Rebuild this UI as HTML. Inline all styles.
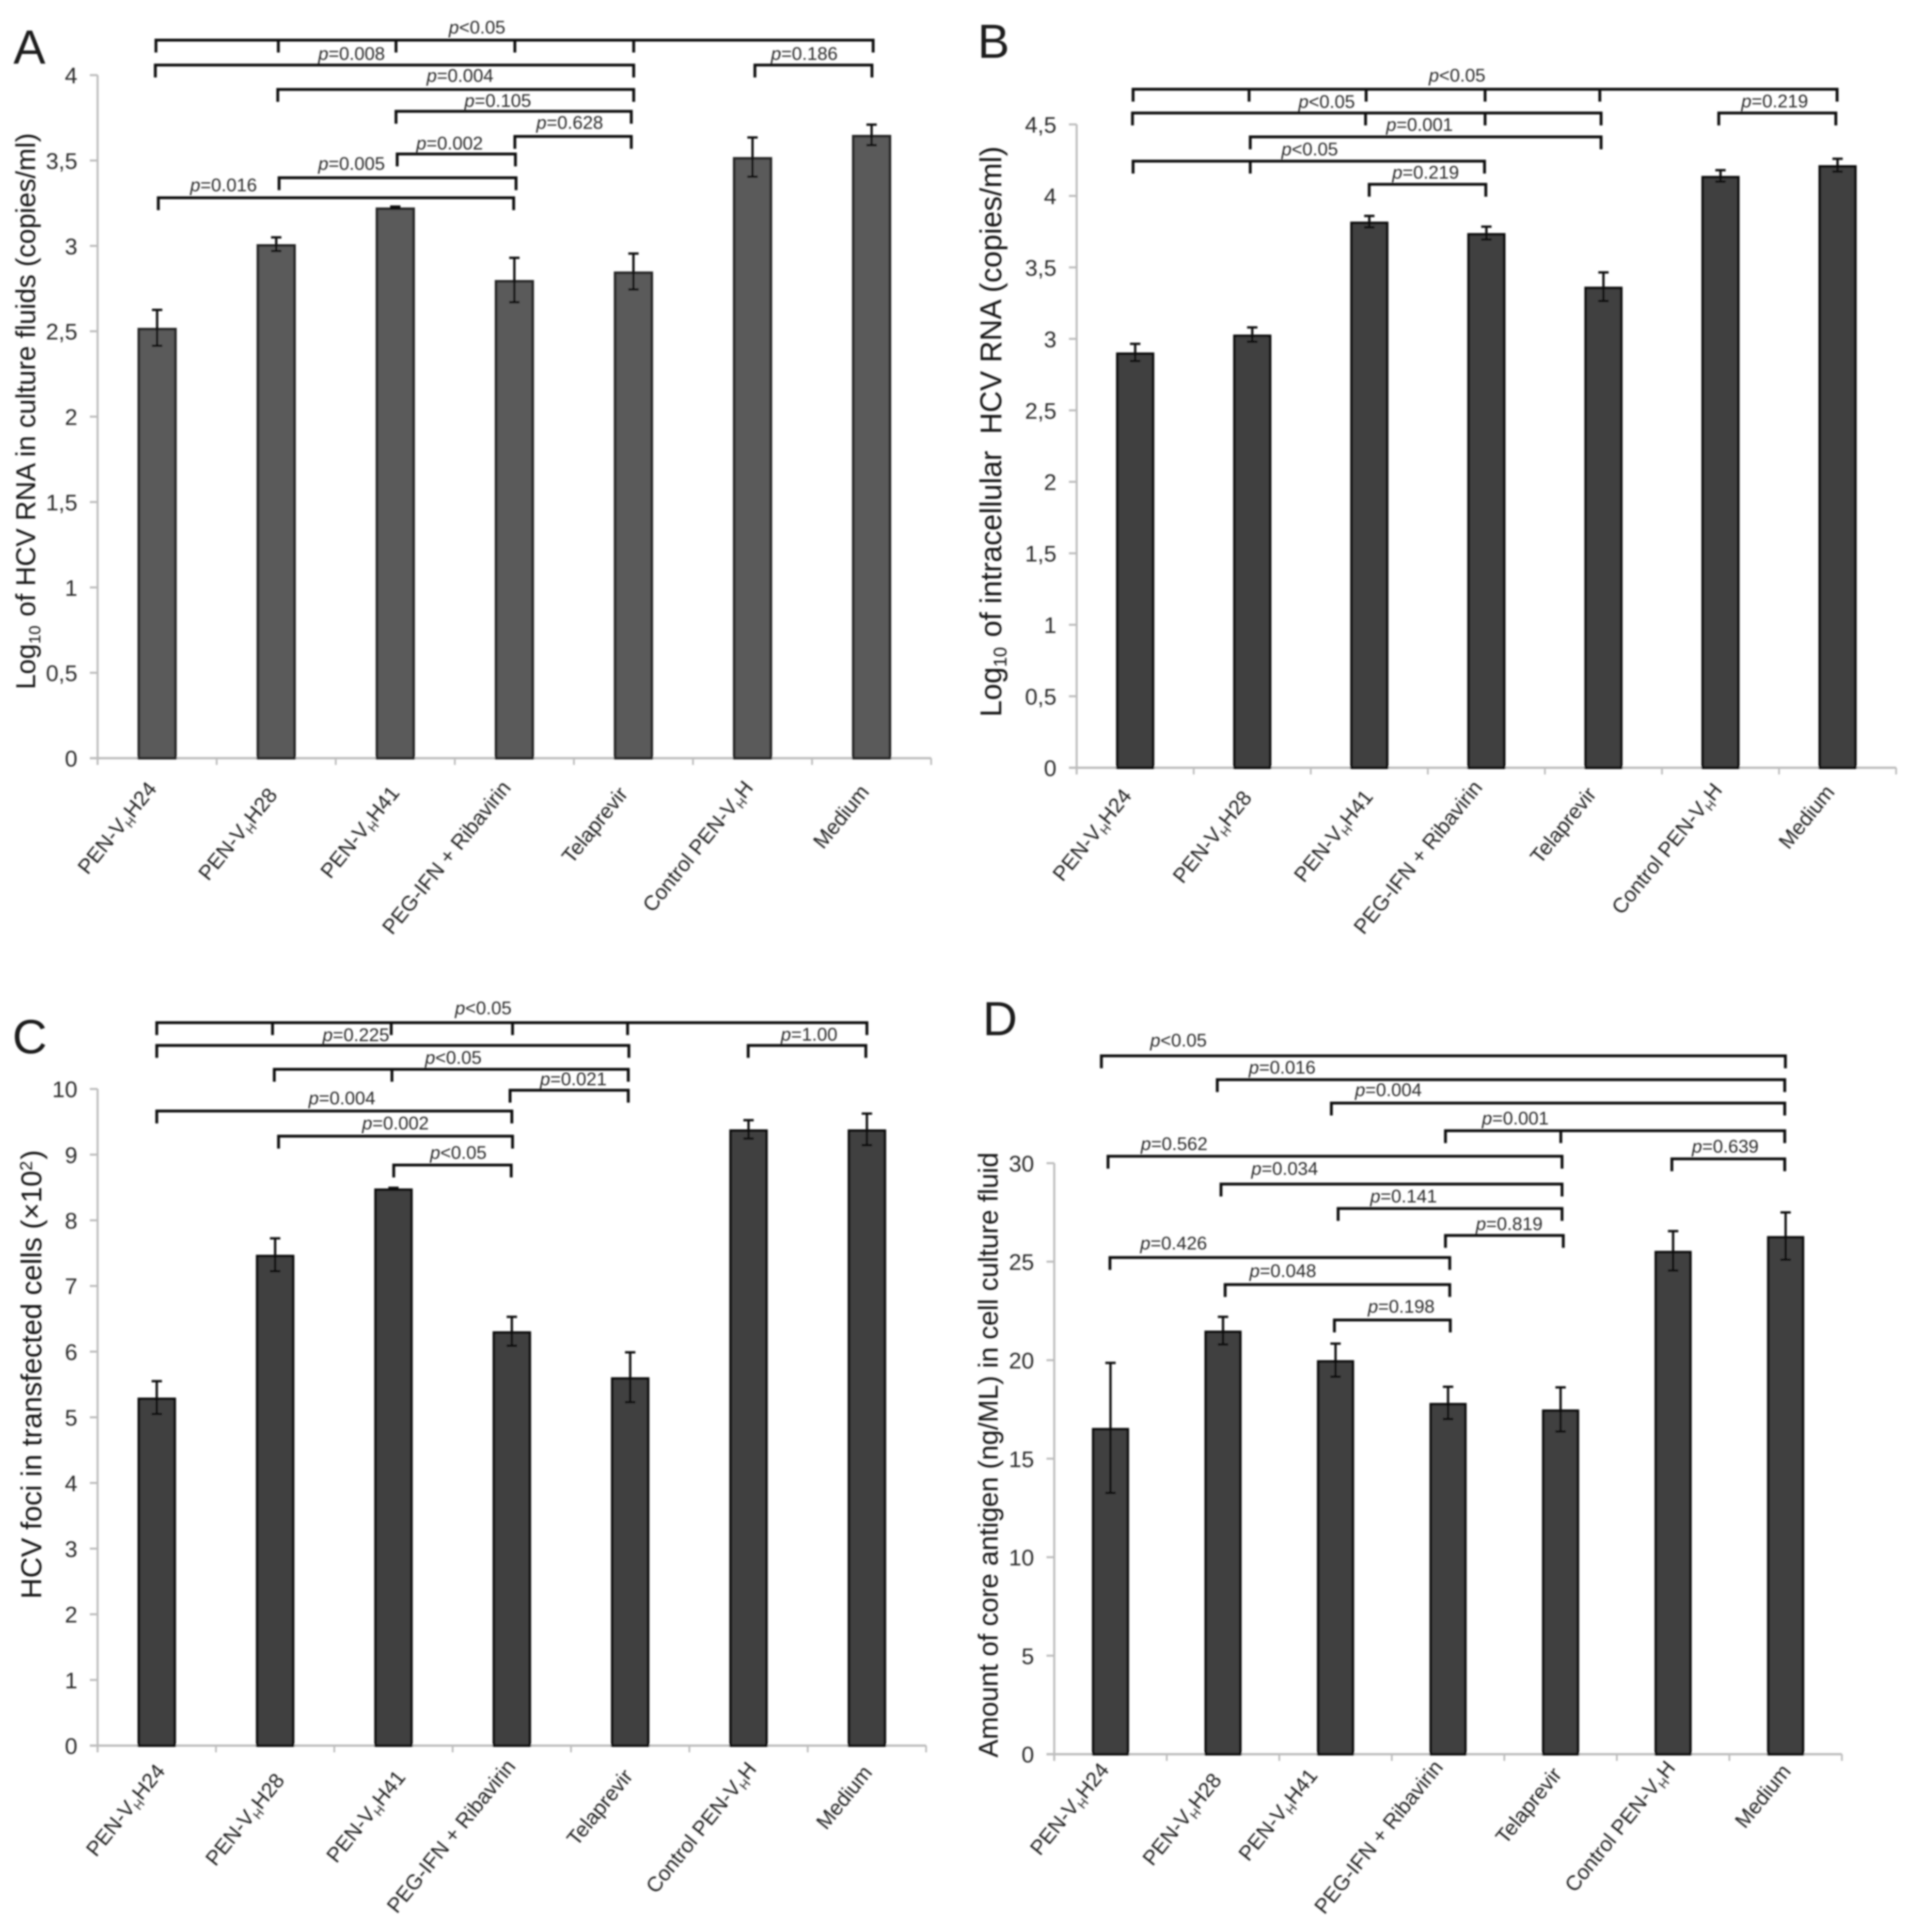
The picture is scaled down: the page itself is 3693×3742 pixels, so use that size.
<!DOCTYPE html>
<html lang="en">
<head>
<meta charset="utf-8">
<title>HCV bar charts</title>
<style>
html,body{margin:0;padding:0;background:#fff}
svg{display:block}
text{font-family:"Liberation Sans",sans-serif}
</style>
</head>
<body>
<svg id="figure" xmlns="http://www.w3.org/2000/svg" width="3693" height="3742" viewBox="0 0 3693 3742">
<defs><filter id="soft" filterUnits="userSpaceOnUse" x="0" y="0" width="3693" height="3742"><feGaussianBlur stdDeviation="1.5"/></filter></defs>
<rect width="3693" height="3742" fill="#fff"/>
<g id="root" filter="url(#soft)"></g>
</svg>
<script>
// ---- data ----
const categories = ['PEN-V|H|H24','PEN-V|H|H28','PEN-V|H|H41','PEG-IFN + Ribavirin','Telaprevir','Control PEN-V|H|H','Medium'];

const valuesA = [2.52,3.01,3.225,2.80,2.85,3.52,3.65];
const errorsA = [0.105,0.04,0.005,0.13,0.105,0.115,0.06];
const ticksA = ['0','0,5','1','1,5','2','2,5','3','3,5','4'];

const valuesB = [2.905,3.03,3.82,3.74,3.365,4.14,4.215];
const errorsB = [0.06,0.05,0.04,0.045,0.10,0.04,0.045];
const ticksB = ['0','0,5','1','1,5','2','2,5','3','3,5','4','4,5'];

const valuesC = [5.30,7.475,8.485,6.31,5.61,9.385,9.385];
const errorsC = [0.25,0.25,0.01,0.22,0.38,0.14,0.24];
const ticksC = ['0','1','2','3','4','5','6','7','8','9','10'];

const valuesD = [16.56,21.5,20.0,17.83,17.5,25.55,26.3];
const errorsD = [3.3,0.7,0.84,0.82,1.12,1.0,1.2];
const ticksD = ['0','5','10','15','20','25','30'];

// significance brackets: [from category, to category, axis level, inner tick categories, label, label category, label level]
const bracketsA = [
 [-0.01,6.013,4.205,[1.018,2.006,3.004,4.002],'<0.05',2.687,4.282],
 [-0.015,4.002,4.059,[],'=0.008',1.633,4.128],
 [5.02,6.003,4.059,[],'=0.186',5.435,4.128],
 [1.013,4.002,3.916,[],'=0.004',2.544,4.0],
 [2.006,3.982,3.788,[],'=0.105',2.861,3.853],
 [3.004,3.982,3.641,[],'=0.628',3.465,3.725],
 [2.016,3.009,3.538,[],'=0.002',2.456,3.604],
 [1.024,3.014,3.399,[],'=0.005',1.633,3.484],
 [0.01,2.994,3.282,[],'=0.016',0.558,3.359]
];
const bracketsB = [
 [-0.018,5.996,4.746,[0.973,1.973,2.989,3.969],'<0.05',2.75,4.847],
 [-0.023,3.98,4.58,[1.968,2.989],'<0.05',1.636,4.663],
 [4.985,5.985,4.58,[],'=0.219',5.463,4.667],
 [0.983,3.98,4.413,[],'=0.001',2.429,4.501],
 [-0.018,2.984,4.243,[0.983],'<0.05',1.491,4.33],
 [1.999,2.995,4.081,[],'=0.219',2.481,4.168]
];
const bracketsC = [
 [0,6,11.01,[0.978,1.981,3.006,3.978],'<0.05',2.759,11.24],
 [0,3.989,10.663,[],'=0.225',1.683,10.83],
 [4.997,5.991,10.663,[],'=1.00',5.512,10.84],
 [0.993,3.984,10.299,[1.987],'<0.05',2.506,10.485],
 [2.985,3.984,9.981,[],'=0.021',3.52,10.159],
 [0,3,9.664,[],'=0.004',1.565,9.869],
 [1.029,3.006,9.281,[],'=0.002',2.017,9.487],
 [2.002,2.995,8.842,[],'<0.05',2.548,9.038]
];
const bracketsD = [
 [-0.081,5.998,35.45,[],'<0.05',0.604,36.26],
 [0.949,5.992,34.24,[],'=0.016',1.526,34.89],
 [1.963,5.992,33.05,[],'=0.004',2.47,33.74],
 [2.977,5.992,31.65,[4.002],'=0.001',3.598,32.31],
 [4.989,5.992,30.22,[],'=0.639',5.464,30.87],
 [-0.022,4.013,30.35,[],'=0.562',0.566,31.0],
 [0.982,4.013,28.94,[],'=0.034',1.548,29.75],
 [2.023,4.013,27.7,[],'=0.141',2.605,28.35],
 [2.977,4.024,26.33,[],'=0.819',3.544,26.95],
 [-0.005,3.015,25.21,[],'=0.426',0.561,25.96],
 [1.019,3.015,23.84,[],'=0.048',1.532,24.56],
 [1.99,3.02,22.04,[],'=0.198',2.584,22.75]
];

// ---- layout ----
const NS = 'http://www.w3.org/2000/svg';
const root = document.getElementById('root');
const layouts = {
 A:{x0:189,step:230.6,y0:1468.5,yTop:145.5,max:4,barW:76,fill:'#5a5a5a',edge:'#262626',letterX:26,letterY:123,titleX:68,titleTop:260,titleBot:1333,titleSize:53,labelDx:[1,4,10,-5,-9,3,-3],labelOff:[60,72,68,58,70,58,66]},
 B:{x0:2085,step:226.7,y0:1487,yTop:241,max:4.5,barW:74,fill:'#404040',edge:'#0c0c0c',letterX:1893,letterY:112,titleX:1939,titleTop:285,titleBot:1387,titleSize:58,labelDx:[-5,1,9,-6,-12,5,-4],labelOff:[55,59,57,39,52,44,48]},
 C:{x0:189,step:229.2,y0:3381,yTop:2109.2,max:10,barW:74.5,fill:'#404040',edge:'#0c0c0c',letterX:24,letterY:2040,titleX:80,titleTop:2224,titleBot:3100,titleSize:56,labelDx:[18,20,25,9,7,17,12],labelOff:[50,68,62,41,60,46,53]},
 D:{x0:2041.6,step:217.9,y0:3397.6,yTop:2252.9,max:30,barW:72,fill:'#404040',edge:'#0c0c0c',letterX:1903,letterY:2005,titleX:1932,titleTop:2230,titleBot:3406,titleSize:52.6,labelDx:[-1,-1,-33,-8,4,6,12],labelOff:[31,51,42,26,40,27,34]}
};

function make(tag, parent, props){
  const el = document.createElementNS(NS, tag);
  for (const k in props) el.setAttribute(k, props[k]);
  parent.appendChild(el);
  return el;
}
function tspan(parent, str, props){
  const t = make('tspan', parent, props || {});
  t.textContent = str;
  return t;
}

function drawPanel(id, values, errors, ticks, brackets, titleParts){
  const L = layouts[id];
  const xScale = c => L.x0 + (c + 0.5) * L.step;
  const yScale = v => L.y0 - v / L.max * (L.y0 - L.yTop);
  const xEnd = L.x0 + L.step * categories.length;

  const g = make('g', root, {});
  
  

  const letter = make('text', g, {x:L.letterX, y:L.letterY, 'font-size':93, fill:'#1c1c1c'});
  letter.textContent = id;
  
  

  // axes
  const yAxis = make('line', g, {x1:L.x0, x2:L.x0, y1:L.yTop, y2:L.y0+13, stroke:'#bdbdbd', 'stroke-width':4});
  
  
  const xAxis = make('line', g, {x1:L.x0-15, x2:xEnd, y1:L.y0, y2:L.y0, stroke:'#bdbdbd', 'stroke-width':4.5});
  
  

  // y ticks
  ticks.forEach((label, i) => {
    const v = i * L.max / (ticks.length - 1);
    const y = yScale(v);
    const tick = make('line', g, {x1:L.x0-15, x2:L.x0, y1:y, y2:y, stroke:'#bdbdbd', 'stroke-width':4});
    
    
    const txt = make('text', g, {x:L.x0-39, y:y+16, 'font-size':44, 'text-anchor':'end', fill:'#2c2c2c'});
    txt.textContent = label;
    
    
  });

  // x ticks
  for (let i = 1; i <= categories.length; i++) {
    const x = L.x0 + i * L.step;
    const tick = make('line', g, {x1:x, x2:x, y1:L.y0, y2:L.y0+13, stroke:'#bdbdbd', 'stroke-width':3.5});
    
    
  }

  // bars
  values.forEach((v, i) => {
    const cx = xScale(i), top = yScale(v);
    const bar = make('rect', g, {x:cx-L.barW/2+2.5, y:top+2.5, width:L.barW-5, height:L.y0-top-2.5, fill:L.fill, stroke:L.edge, 'stroke-width':5});
    
    
    const hi = yScale(v + errors[i]), lo = yScale(v - errors[i]);
    const stem = make('line', g, {x1:cx, x2:cx, y1:hi, y2:lo, stroke:'#111', 'stroke-width':4.5});
    
    
    [hi, lo].forEach(y => {
      const cap = make('line', g, {x1:cx-10, x2:cx+10, y1:y, y2:y, stroke:'#111', 'stroke-width':4.5});
      
      
    });
  });

  // category labels
  categories.forEach((name, i) => {
    const ax = xScale(i) + L.labelDx[i], ay = L.y0 + L.labelOff[i];
    const txt = make('text', g, {'font-size':40.5, 'text-anchor':'end', fill:'#222', transform:'translate('+ax+' '+ay+') rotate(-51)'});
    
    
    const parts = name.split('|');
    if (parts.length === 3) {
      tspan(txt, parts[0]);
      tspan(txt, parts[1], {'font-size':24, dy:8});
      tspan(txt, parts[2], {dy:-8});
    } else {
      txt.textContent = name;
    }
  });

  // brackets
  brackets.forEach(b => {
    const [from, to, level, inner, label, labelCat, labelLevel] = b;
    const y = yScale(level);
    const bg = make('g', g, {stroke:'#111', 'stroke-width':5.5, fill:'none'});
    
    
    make('path', bg, {d:'M'+xScale(from)+' '+(y+24)+'V'+y+'H'+xScale(to)+'V'+(y+24)});
    inner.forEach(c => {
      make('line', bg, {x1:xScale(c), x2:xScale(c), y1:y, y2:y+24});
    });
    const t = make('text', g, {x:xScale(labelCat), y:yScale(labelLevel)+13, 'font-size':35.5, 'text-anchor':'middle', fill:'#2a2a2a'});
    
    
    tspan(t, 'p', {'font-style':'italic'});
    tspan(t, label);
  });

  // y title
  const midY = (L.titleTop + L.titleBot) / 2;
  const title = make('text', g, {'font-size':L.titleSize, 'text-anchor':'middle', fill:'#151515', transform:'translate('+L.titleX+' '+midY+') rotate(-90)'});
  
  
  titleParts.forEach(p => {
    if (p[1]) tspan(title, p[0], {'font-size':L.titleSize*0.6, dy:p[1]});
    else tspan(title, p[0]);
  });
}

drawPanel('A', valuesA, errorsA, ticksA, bracketsA, [['Log'],['10',10],['\u200A',-10],[' of HCV RNA in culture fluids (copies/ml)']]);
drawPanel('B', valuesB, errorsB, ticksB, bracketsB, [['Log'],['10',10],['\u200A',-10],[' of intracellular\u00A0 HCV RNA (copies/ml)']]);
drawPanel('C', valuesC, errorsC, ticksC, bracketsC, [['HCV foci in transfected cells (\u00D710'],['2',-18],['\u200A',18],[')']]);
drawPanel('D', valuesD, errorsD, ticksD, bracketsD, [['Amount of core antigen (ng/ML) in cell culture fluid']]);
</script>
</body>
</html>
